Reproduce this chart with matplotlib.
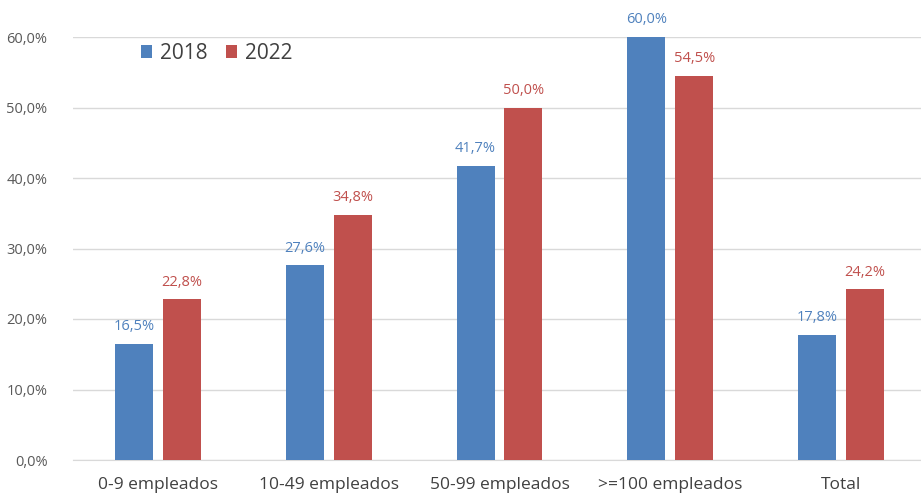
import matplotlib.pyplot as plt
import numpy as np

categories = ["0-9 empleados", "10-49 empleados", "50-99 empleados", ">=100 empleados", "Total"]
values_2018 = [16.5, 27.6, 41.7, 60.0, 17.8]
values_2022 = [22.8, 34.8, 50.0, 54.5, 24.2]
yticks = [0, 10, 20, 30, 40, 50, 60]

BLUE = "#4F81BD"
RED = "#C0504D"
GREY = "#595959"

plt.rcParams["font.family"] = ["Open Sans", "DejaVu Sans"]

W, H = 921, 500
fig = plt.figure(figsize=(W / 100, H / 100), dpi=100)
ax = fig.add_axes([72.5 / W, 40 / H, 854 / W, 423 / H])

x = np.arange(len(categories))
off = 0.14
bw = 0.222
b1 = ax.bar(x - off, values_2018, bw, color=BLUE, label="2018", zorder=3)
b2 = ax.bar(x + off, values_2022, bw, color=RED, label="2022", zorder=3)

for bars, vals, col in [(b1, values_2018, BLUE), (b2, values_2022, RED)]:
    for b, v in zip(bars, vals):
        ax.annotate(f"{v:.1f}%".replace(".", ","),
                    (b.get_x() + b.get_width() / 2, v),
                    xytext=(0, 7), textcoords="offset points",
                    ha="center", va="bottom", fontsize=10.5, color=col)

ax.set_xlim(-0.5, len(categories) - 0.5)
ax.set_ylim(0, 60)
ax.set_yticks(yticks)
ax.set_yticklabels([f"{t:.1f}%".replace(".", ",") for t in yticks])
ax.set_xticks(x)
ax.set_xticklabels(categories, fontsize=12.5)
ax.tick_params(axis="y", length=0, pad=18, labelsize=10.5, labelcolor=GREY)
ax.tick_params(axis="x", length=0, pad=12, labelcolor="#404040")
ax.grid(axis="y", color="#D9D9D9", linewidth=1, zorder=0)
for s in ["top", "right", "left"]:
    ax.spines[s].set_visible(False)
ax.spines["bottom"].set_color("#D9D9D9")

ax.legend(loc="upper left", bbox_to_anchor=(0.058, 1.03), ncol=2, frameon=False,
          fontsize=15, handlelength=0.55, handleheight=0.55, handletextpad=0.35,
          columnspacing=0.9, labelcolor="#404040")

fig.savefig("out.png", dpi=100)
